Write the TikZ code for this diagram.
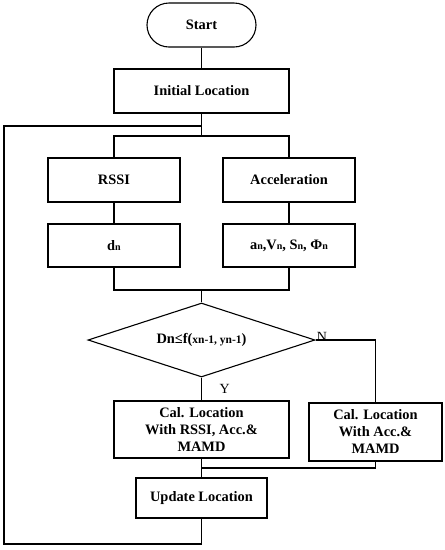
\documentclass[tikz,border=0pt]{standalone}
\usepackage{fontspec}
\setmainfont{Liberation Serif}
\usetikzlibrary{shapes.geometric}

% small index letters as in the figure
\newcommand{\ix}[1]{{\fontsize{10}{11}\selectfont #1}}
\newcommand{\ixx}[1]{{\fontsize{11.5}{12}\selectfont #1}}

\tikzset{
  box/.style={draw,rectangle,line width=1.1pt,align=center,font=\bfseries\fontsize{14.4}{17}\selectfont,inner sep=2pt},
  term/.style={box,rounded corners=22pt},
  choice/.style={draw,diamond,line width=1.1pt,inner sep=0pt,shape aspect=3.07,font=\bfseries\fontsize{14.4}{17}\selectfont},
  wire/.style={line width=1.1pt},
  lab/.style={font=\fontsize{14}{15}\selectfont}
}

\begin{document}
\begin{tikzpicture}[x=1pt,y=-1pt]
  \useasboundingbox (0,0) rectangle (445,550);
  % Top of the chart
  \node[term,minimum width=109pt,minimum height=44pt] (start) at (201.5,25) {Start};
  \node[box,minimum width=175pt,minimum height=44pt] (init) at (201.5,91) {Initial Location};
  % Two sensor branches
  \node[box,minimum width=132pt,minimum height=44pt] (rssi) at (114,180) {RSSI};
  \node[box,minimum width=132pt,minimum height=44pt] (acc) at (289,180) {Acceleration};
  \node[box,minimum width=132pt,minimum height=43pt] (dist) at (114,245.5) {d\ix{n}};
  \node[box,minimum width=132pt,minimum height=43pt] (motion) at (289,245.5) {a\ix{n},V\ix{n}, S\ix{n}, Φ\ix{n}};
  % Decision
  \node[choice,minimum width=227pt,minimum height=74pt] (test) at (201.5,340) {Dn≤f(\ixx{xn-1, yn-1})};
  % Location estimates
  \node[box,minimum width=175pt,minimum height=57pt] (calboth) at (201.5,429.5) {Cal. Location\\With RSSI, Acc.\&\\MAMD};
  \node[box,minimum width=133pt,minimum height=58pt] (calacc) at (375.5,432) {Cal. Location\\With Acc.\&\\MAMD};
  \node[box,minimum width=131pt,minimum height=40pt] (update) at (201.5,498) {Update Location};
  % Junction points
  \coordinate (loop) at (201.5,126);
  \coordinate (fork) at (201.5,136);
  \coordinate (merge) at (201.5,290);
  \coordinate (join) at (201.5,468);
  \coordinate (lowleft) at (4,544);
  \coordinate (upleft) at (4,126);
  % Connectors
  \draw[wire] (start) -- (init);
  \draw[wire] (init) -- (loop) -- (fork);
  \draw[wire] (rssi.north) |- (fork) -| (acc.north);
  \draw[wire] (rssi) -- (dist);
  \draw[wire] (acc) -- (motion);
  \draw[wire] (dist.south) |- (merge) -| (motion.south);
  \draw[wire] (merge) -- (test.north);
  \draw[wire] (test.east) -| (calacc.north);
  \node[lab,anchor=south west,inner sep=1pt] (no) at ([yshift=-3pt]test.east) {N};
  \draw[wire] (test.south) -- (calboth.north);
  \node[lab,anchor=west] (yes) at (216,389) {Y};
  \draw[wire] (calboth.south) -- (join);
  \draw[wire] (join) -| (calacc.south);
  \draw[wire] (join) -- (update.north);
  \draw[wire] (update.south) |- (lowleft) -- (upleft) -- (loop);
\end{tikzpicture}
\end{document}
